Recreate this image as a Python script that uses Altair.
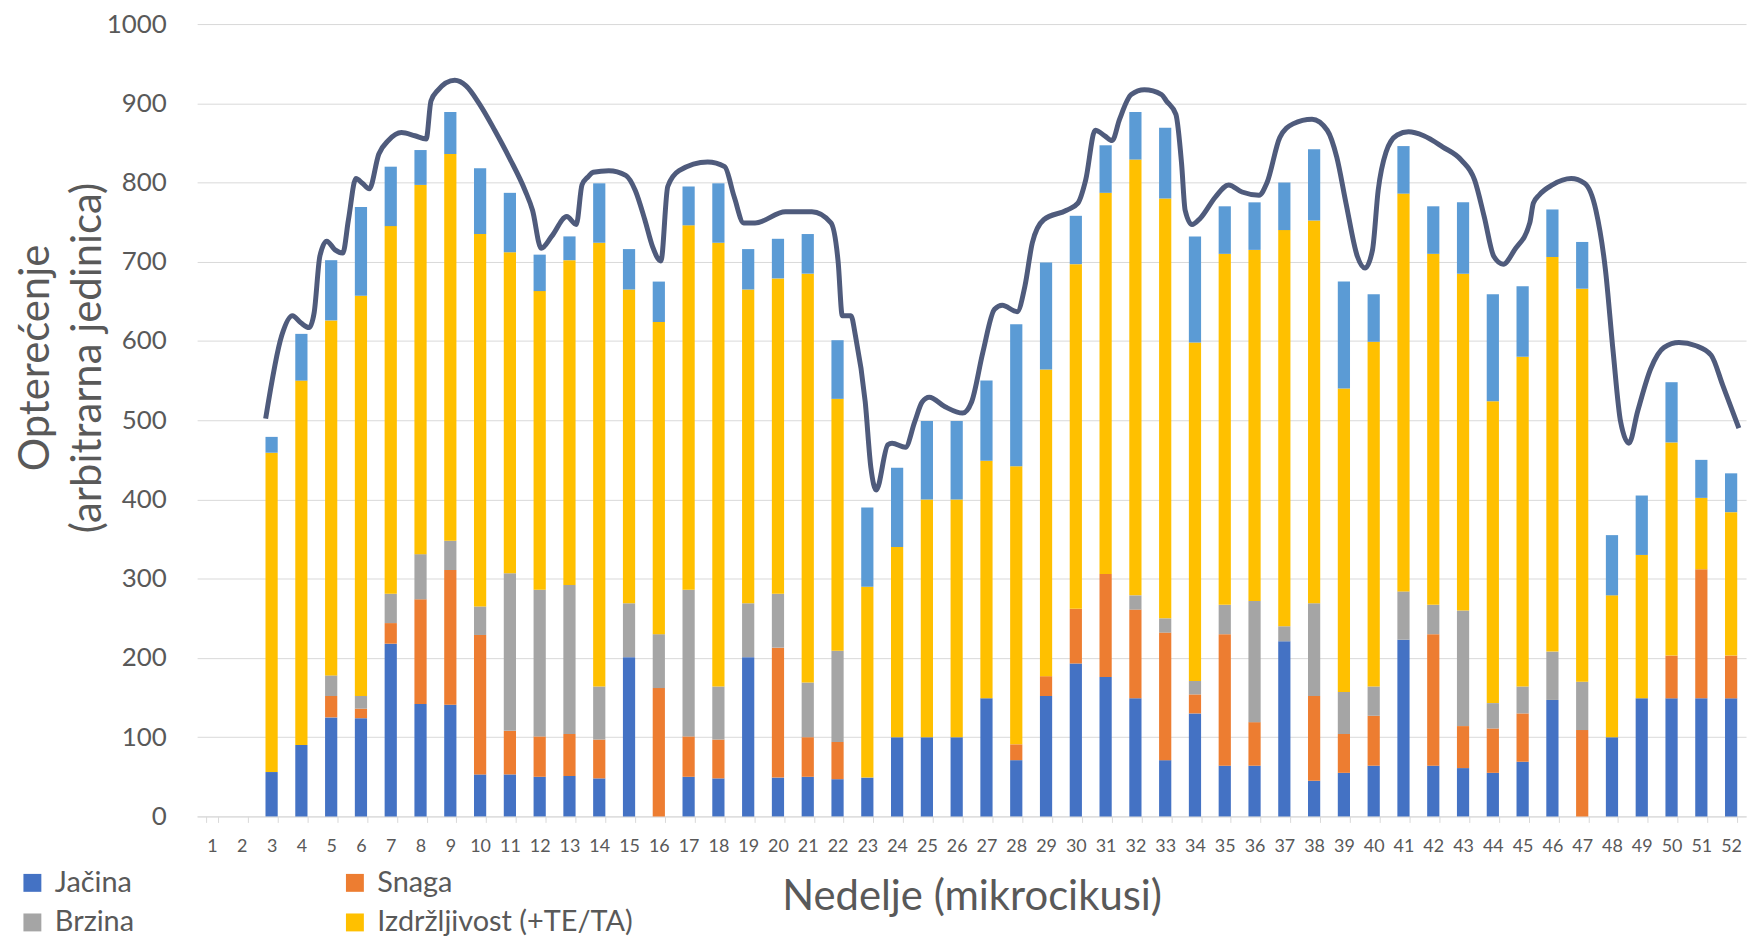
import altair as alt
import pandas as pd

weeks = list(range(1, 53))

series = ["Jačina", "Snaga", "Brzina", "Izdržljivost (+TE/TA)", "Ostalo"]
colors = ["#4472C4", "#ED7D31", "#A5A5A5", "#FFC000", "#5B9BD5"]
legend_order = ["Jačina", "Brzina", "Snaga", "Izdržljivost (+TE/TA)"]

jacina = [0, 0, 56, 90, 125, 124, 218, 142, 141, 53, 53, 50, 51, 48, 201, 0, 50, 48, 201, 49,
          50, 47, 49, 100, 100, 100, 149, 71, 152, 193, 176, 149, 71, 130, 64, 64, 221, 45, 55, 64,
          223, 64, 61, 55, 69, 147, 0, 100, 149, 149, 149, 149]
snaga = [0, 0, 0, 0, 27, 12, 26, 132, 170, 176, 55, 51, 53, 49, 0, 162, 51, 49, 0, 164,
         50, 47, 0, 0, 0, 0, 0, 20, 25, 69, 130, 112, 161, 24, 166, 55, 0, 107, 49, 63,
         0, 166, 53, 56, 61, 0, 109, 0, 0, 54, 163, 54]
brzina = [0, 0, 0, 0, 26, 16, 37, 57, 37, 36, 199, 185, 188, 67, 68, 68, 185, 67, 68, 68,
          69, 115, 0, 0, 0, 0, 0, 0, 0, 0, 0, 18, 18, 17, 37, 153, 19, 117, 53, 37,
          61, 37, 146, 32, 34, 61, 61, 0, 0, 0, 0, 0]
izdrzljivost = [0, 0, 403, 460, 448, 505, 464, 466, 488, 470, 405, 377, 410, 560, 396, 394, 460, 560, 396, 398,
                516, 318, 241, 240, 300, 300, 300, 351, 387, 435, 481, 550, 530, 427, 443, 443, 500, 483, 383, 435,
                502, 443, 425, 381, 416, 498, 496, 179, 181, 269, 90, 181]
ostalo = [0, 0, 20, 59, 76, 112, 75, 44, 53, 83, 75, 46, 30, 75, 51, 51, 49, 75, 51, 50,
          50, 74, 100, 100, 99, 99, 101, 179, 135, 61, 60, 60, 89, 134, 60, 60, 60, 90, 135, 60,
          60, 60, 90, 135, 89, 60, 59, 76, 75, 76, 48, 49]

line_pos = [2.8, 3.34, 3.70, 3.98, 4.26, 4.43, 4.62, 4.85, 5.13, 5.39, 5.58, 5.83, 6.05, 6.28,
            6.60, 6.92, 7.36, 7.81, 8.19, 8.35, 8.57, 9.15, 9.53, 9.98, 10.49, 11.0, 11.51, 11.76,
            12.05, 12.40, 12.91, 13.23, 13.42, 13.62, 13.80, 14.32, 14.89, 15.21, 15.53, 15.79, 16.07,
            16.30, 16.68, 17.64, 18.21, 18.53, 18.85, 19.23, 20.25, 21.14, 21.78, 22.02, 22.16, 22.45,
            22.60, 22.93, 23.12, 23.30, 23.69, 23.83, 24.28, 24.59, 24.84, 25.08, 25.61, 26.20, 26.50,
            26.88, 27.27, 27.53, 28.03, 28.29, 28.54, 28.92, 29.69, 30.07, 30.33, 30.65, 30.97, 31.22,
            31.47, 31.86, 32.30, 32.88, 33.04, 33.36, 33.55, 33.67, 33.90, 34.18, 34.69, 35.13, 35.58,
            36.15, 36.41, 36.85, 37.29, 37.93, 38.44, 38.76, 39.07, 39.45, 39.71, 39.96, 40.15, 40.41,
            40.79, 41.17, 41.68, 42.31, 42.95, 43.39, 43.71, 44.03, 44.35, 44.73, 45.24, 45.36, 45.55,
            46.00, 46.63, 47.08, 47.46, 47.78, 48.04, 48.29, 48.57, 48.86, 49.30, 49.75, 50.25, 50.82,
            51.33, 51.72, 52.26]
line_val = [502, 607, 632, 623, 617, 636, 707, 726, 715, 711, 753, 805, 799, 792,
            836, 853, 863, 859, 855, 903, 916, 929, 922, 899, 866, 830, 790, 765,
            717, 732, 757, 747, 797, 807, 813, 815, 809, 790, 753, 719, 701,
            795, 815, 826, 820, 782, 749, 749, 763, 763, 749, 700, 632, 632,
            607, 523, 440, 412, 469, 471, 466, 498, 523, 529, 517, 509, 523,
            586, 640, 645, 637, 669, 724, 753, 765, 774, 803, 866, 859, 853,
            880, 911, 917, 911, 903, 886, 824, 765, 747, 755, 782, 797, 788,
            784, 799, 857, 874, 880, 866, 832, 774, 707, 692, 715, 790, 838,
            860, 864, 859, 845, 828, 803, 757, 707, 697, 715, 749, 774, 784,
            797, 805, 799, 765, 690, 586, 498, 471, 511, 565, 592, 598, 594,
            582, 544, 490]

TEXT = "#595959"
FONT = "Lato"

rows = []
for i, w in enumerate(weeks):
    for k, vals in enumerate([jacina, snaga, brzina, izdrzljivost, ostalo]):
        rows.append({"week": w, "series": series[k], "order": k, "value": vals[i]})
bar_df = pd.DataFrame(rows)
line_df = pd.DataFrame({"pos": line_pos, "value": line_val})

y_axis = alt.Axis(values=list(range(0, 1001, 100)), format="d", grid=True, gridColor="#D9D9D9",
                  domain=False, ticks=False, labelFontSize=26, labelColor=TEXT,
                  labelFont=FONT, labelPadding=31,
                  title=["Opterećenje", "(arbitrarna jedinica)"], titleFontSize=42,
                  titleColor=TEXT, titleFont=FONT, titleFontWeight="normal",
                  titleLineHeight=52, titleX=-140, titleY=335)

bars = alt.Chart(bar_df).mark_bar().encode(
    x=alt.X("week:O",
            scale=alt.Scale(domain=weeks, paddingInner=0.59, paddingOuter=0.295),
            axis=alt.Axis(labelAngle=0, tickBand="extent", tickSize=6, tickColor="#D9D9D9",
                          domainColor="#D9D9D9", labelFontSize=18, labelColor=TEXT, labelFont=FONT,
                          labelPadding=15, grid=False,
                          title="Nedelje (mikrocikusi)", titleFontSize=42, titleColor=TEXT,
                          titleFont=FONT, titleFontWeight="normal", titleY=81,
                          titleBaseline="middle")),
    y=alt.Y("value:Q", stack="zero",
            scale=alt.Scale(domain=[0, 1000], nice=False),
            axis=y_axis),
    color=alt.Color("series:N", scale=alt.Scale(domain=series, range=colors),
                    legend=alt.Legend(values=legend_order, orient="none", legendX=-180, legendY=848,
                                      columns=2, columnPadding=207, rowPadding=10,
                                      symbolType="square", symbolSize=324, symbolStrokeWidth=0,
                                      labelFontSize=29, labelFont=FONT, labelColor=TEXT,
                                      labelOffset=8, labelLimit=500, title=None)),
    order=alt.Order("order:Q", sort="ascending"),
)

line = alt.Chart(line_df).mark_line(interpolate="monotone", color="#4F5B7C", strokeWidth=5).encode(
    x=alt.X("pos:Q", scale=alt.Scale(domain=[0.5, 52.5], nice=False, zero=False), axis=None),
    y=alt.Y("value:Q", scale=alt.Scale(domain=[0, 1000], nice=False), axis=y_axis),
)

chart = alt.layer(bars, line).resolve_scale(x="independent").properties(
    width=1556, height=796,
    padding={"left": 190, "top": 14, "right": 4, "bottom": 119},
    autosize=alt.AutoSizeParams(type="none"),
).configure(font=FONT).configure_view(stroke=None)

chart.save("out.html", embed_options={"renderer": "svg", "actions": False})
